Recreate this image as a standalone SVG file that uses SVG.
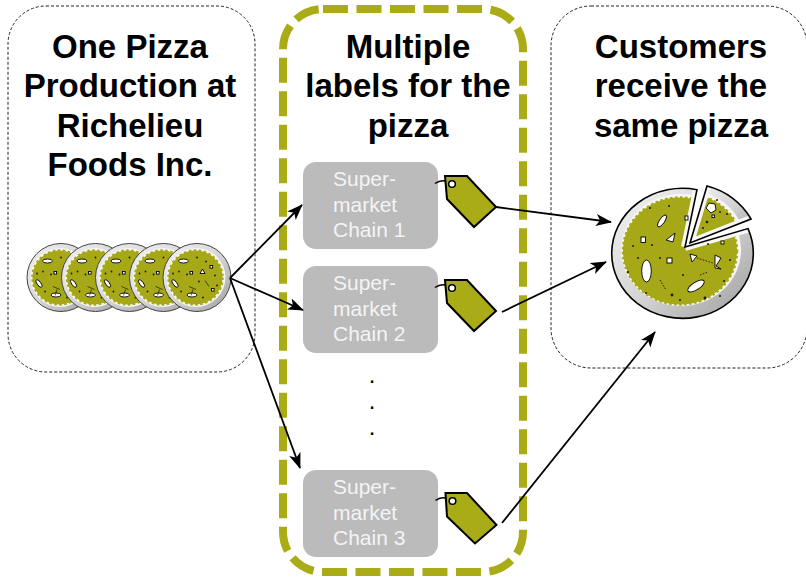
<svg xmlns="http://www.w3.org/2000/svg" xmlns:xlink="http://www.w3.org/1999/xlink" width="806" height="580" viewBox="0 0 806 580">
  <style>
    .frame { fill: none; stroke: #222; stroke-width: 1; stroke-dasharray: 3 2; }
    .hub { fill: none; stroke: #a9ac16; stroke-width: 8; stroke-dasharray: 25 8.5; }
    .title { font-family: "Liberation Sans", Arial, Helvetica, sans-serif; font-weight: bold; font-size: 33px; fill: #000; text-anchor: middle; }
    .store { fill: #bbbbbb; }
    .storetxt { font-family: "Liberation Sans", Arial, Helvetica, sans-serif; font-size: 21px; fill: #f4f4f4; }
    .tag { fill: #a9ac16; stroke: #000; stroke-width: 2; stroke-linejoin: miter; }
    .hole { fill: #fff; stroke: #000; stroke-width: 1.5; }
    .string { fill: none; stroke: #000; stroke-width: 1.5; }
    .conn { fill: none; stroke: #000; stroke-width: 1.8; marker-end: url(#ah); }
    .spot { fill: #fff; stroke: #000; stroke-width: 0.9; }
    .crumb { fill: #1a1a00; }
    .cheese { fill: #a6a817; stroke: #a6a817; stroke-width: 2.5; stroke-dasharray: 2.5 2.5; }
    .dots { font-family: "Liberation Sans", Arial, sans-serif; font-size: 24px; fill: #000; text-anchor: middle; }
  </style>
  <defs>
    <marker id="ah" markerUnits="userSpaceOnUse" markerWidth="16" markerHeight="12" viewBox="0 0 16 12" refX="15" refY="6" orient="auto">
      <path d="M0,0 L16,6 L0,12 L4,6 Z" fill="#000"/>
    </marker>
    <linearGradient id="plateG" x1="0" y1="0" x2="1" y2="1">
      <stop offset="0" stop-color="#f4f4f4"/>
      <stop offset="0.55" stop-color="#d2d2d2"/>
      <stop offset="1" stop-color="#9c9c9c"/>
    </linearGradient>
    <!-- small whole pizza, centred on 0,0 -->
    <g id="mini">
      <circle r="34" fill="url(#plateG)" stroke="#444" stroke-width="1"/>
      <circle cx="-1" cy="0" r="29.5" fill="#f6f6f6"/>
      <circle class="cheese" cx="-1.5" cy="0" r="27"/>
      <ellipse class="spot" cx="-13.5" cy="-16.5" rx="5" ry="2"/>
      <ellipse class="spot" cx="-22" cy="6" rx="1.8" ry="4.5" transform="rotate(-35 -22 6)"/>
      <ellipse class="spot" cx="-5" cy="17.5" rx="5" ry="2"/>
      <path class="spot" d="M3,-4 L8,-4 L5.5,-8.5 Z"/>
      <rect class="spot" x="-7" y="-6" width="2.6" height="2.6"/>
      <rect class="spot" x="14.5" y="11" width="2.6" height="2.6"/>
      <rect class="spot" x="13" y="-12" width="2.6" height="2.6"/>
      <path d="M-8,9 L-1,12 M-4,12 L-6,18 M8,3 L12,9" stroke="#000" stroke-width="0.6" fill="none"/>
      <circle class="crumb" cx="-18" cy="-6" r="0.9"/>
      <circle class="crumb" cx="-10" cy="-3" r="0.9"/>
      <circle class="crumb" cx="2" cy="4" r="0.9"/>
      <circle class="crumb" cx="9" cy="-16" r="0.9"/>
      <circle class="crumb" cx="18" cy="-2" r="0.9"/>
      <circle class="crumb" cx="20" cy="8" r="0.9"/>
      <circle class="crumb" cx="-16" cy="14" r="0.9"/>
      <circle class="crumb" cx="6" cy="20" r="0.9"/>
      <circle class="crumb" cx="-24" cy="-4" r="0.9"/>
      <circle class="crumb" cx="0" cy="-20" r="0.9"/>
    </g>
    <!-- outline of the cut pizza and its lifted slice -->
    <path id="mainPie" d="M685 247 L748 228.6 A70.8 65 0 1 1 697 189.7 Z"/>
    <path id="slicePie" d="M690 243 L707 186 A70.8 65 0 0 1 751 219 Z"/>
    <clipPath id="mainClip"><use xlink:href="#mainPie"/></clipPath>
    <clipPath id="sliceClip"><use xlink:href="#slicePie"/></clipPath>
  </defs>

  <!-- production -->
  <g id="factory">
    <rect class="frame" x="8" y="6" width="247" height="366" rx="38" ry="38"/>
    <text class="title"><tspan x="130" y="57.5">One Pizza</tspan><tspan x="130" y="97">Production at</tspan><tspan x="130" y="136.5">Richelieu</tspan><tspan x="130" y="176">Foods Inc.</tspan></text>
    <use xlink:href="#mini" x="61" y="277.5"/>
    <use xlink:href="#mini" x="95.5" y="277.5"/>
    <use xlink:href="#mini" x="129.5" y="277.5"/>
    <use xlink:href="#mini" x="163.5" y="277.5"/>
    <use xlink:href="#mini" x="197" y="277.5"/>
  </g>

  <!-- labelling -->
  <g id="labels">
    <rect class="hub" x="283" y="9" width="240" height="563" rx="40" ry="40"/>
    <text class="title"><tspan x="408" y="57.5">Multiple</tspan><tspan x="408" y="97">labels for the</tspan><tspan x="408" y="136.5">pizza</tspan></text>
    <text class="dots"><tspan x="372" y="383">.</tspan><tspan x="372" y="409">.</tspan><tspan x="372" y="435">.</tspan></text>
  </g>

  <g id="chain1">
    <rect class="store" x="303" y="162" width="135" height="87" rx="13"/>
    <text class="storetxt"><tspan x="333" y="186">Super-</tspan><tspan x="333" y="211.5">market</tspan><tspan x="333" y="237">Chain 1</tspan></text>
    <path class="string" d="M435 183.5 C440 180 445 180 450 183"/>
    <polygon class="tag" points="445,176 467,176 496,207 474,227 447,199"/>
    <circle class="hole" cx="452" cy="184" r="3.3"/>
  </g>

  <g id="chain2">
    <rect class="store" x="303" y="266" width="135" height="87" rx="13"/>
    <text class="storetxt"><tspan x="333" y="290">Super-</tspan><tspan x="333" y="315.5">market</tspan><tspan x="333" y="341">Chain 2</tspan></text>
    <path class="string" d="M435 287.5 C440 284 445 284 450 287"/>
    <polygon class="tag" points="445,280 467,280 496,311 474,331 447,303"/>
    <circle class="hole" cx="452" cy="288" r="3.3"/>
  </g>

  <g id="chain3">
    <rect class="store" x="303" y="470" width="135" height="87" rx="13"/>
    <text class="storetxt"><tspan x="333" y="494">Super-</tspan><tspan x="333" y="519.5">market</tspan><tspan x="333" y="545">Chain 3</tspan></text>
    <path class="string" d="M435.5 500.5 C440 497 446 497 450 500"/>
    <polygon class="tag" points="445.5,493 467,493 496.5,525 475,543.5 447,516.5"/>
    <circle class="hole" cx="452.5" cy="501" r="3.3"/>
  </g>

  <!-- customers -->
  <g id="customers">
    <rect class="frame" x="551" y="6" width="256" height="362" rx="40" ry="40"/>
    <text class="title"><tspan x="681" y="57.5">Customers</tspan><tspan x="681" y="97">receive the</tspan><tspan x="681" y="136.5">same pizza</tspan></text>

    <!-- cut pizza -->
    <use xlink:href="#mainPie" fill="url(#plateG)"/>
    <g clip-path="url(#mainClip)">
      <ellipse cx="681" cy="250" rx="60" ry="56" fill="#f7f7f7"/>
      <ellipse class="cheese" cx="680" cy="251" rx="57" ry="53.5"/>
      <path d="M685 247 L748 228.6 M685 247 L697 189.7" stroke="#f7f7f7" stroke-width="8" fill="none"/>
      <ellipse class="spot" cx="646.5" cy="271" rx="4.8" ry="11"/>
      <ellipse class="spot" cx="696" cy="286" rx="9.5" ry="3.8" transform="rotate(-32 696 286)"/>
      <ellipse class="spot" cx="662" cy="221" rx="2.6" ry="7" transform="rotate(35 662 221)"/>
      <path class="spot" d="M666 240 L675 233 L673 242 Z"/>
      <path class="spot" d="M690 254 L697 256 L692 262 Z"/>
      <path class="spot" d="M715 255 L721 258 L716 266 L721 269 L715 268 Z"/>
      <rect class="spot" x="641" y="237" width="4.5" height="5.5"/>
      <rect class="spot" x="667" y="258" width="5" height="5"/>
      <rect class="spot" x="685" y="216" width="3" height="4"/>
      <rect class="spot" x="721" y="241" width="3" height="3"/>
      <path d="M697 258 L713 263 M660 280 L666 290 M700 275 L708 272" stroke="#000" stroke-width="0.8" stroke-dasharray="1.5 1.5" fill="none"/>
      <circle class="crumb" cx="633" cy="246" r="1"/>
      <circle class="crumb" cx="650" cy="208" r="1.1"/>
      <circle class="crumb" cx="638" cy="258" r="1"/>
      <circle class="crumb" cx="652" cy="245" r="1"/>
      <circle class="crumb" cx="672" cy="295" r="1.4"/>
      <circle class="crumb" cx="680" cy="300" r="1"/>
      <circle class="crumb" cx="705" cy="298" r="1.4"/>
      <circle class="crumb" cx="724" cy="281" r="1"/>
      <circle class="crumb" cx="730" cy="260" r="1"/>
      <circle class="crumb" cx="708" cy="244" r="1"/>
      <circle class="crumb" cx="628" cy="272" r="1"/>
      <circle class="crumb" cx="646" cy="293" r="1"/>
      <circle class="crumb" cx="669" cy="206" r="1"/>
      <circle class="crumb" cx="660" cy="258" r="1"/>
      <circle class="crumb" cx="683" cy="275" r="1"/>
      <circle class="crumb" cx="720" cy="296" r="1"/>
    </g>
    <use xlink:href="#mainPie" fill="none" stroke="#000" stroke-width="1.6" stroke-linejoin="miter"/>

    <!-- lifted slice -->
    <use xlink:href="#slicePie" fill="url(#plateG)"/>
    <g clip-path="url(#sliceClip)">
      <ellipse cx="686" cy="246" rx="60" ry="56" fill="#f7f7f7"/>
      <ellipse class="cheese" cx="685" cy="247" rx="57" ry="53.5"/>
      <path d="M690 243 L707 186 M690 243 L751 219" stroke="#f7f7f7" stroke-width="8" fill="none"/>
      <path class="spot" d="M709 203 L715 204 L716 210 L711 213 L706 208 Z"/>
      <rect class="spot" x="712" y="215" width="2.5" height="2.5"/>
      <circle class="crumb" cx="707" cy="222" r="1.3"/>
      <circle class="crumb" cx="720" cy="212" r="1"/>
      <circle class="crumb" cx="727" cy="214" r="1"/>
      <circle class="crumb" cx="717" cy="200" r="1"/>
      <circle class="crumb" cx="703" cy="228" r="1"/>
    </g>
    <use xlink:href="#slicePie" fill="none" stroke="#000" stroke-width="1.6" stroke-linejoin="miter"/>
  </g>

  <!-- connectors -->
  <g id="connectors">
    <path class="conn" d="M230 278 L302 205"/>
    <path class="conn" d="M230 278 L303 310"/>
    <path class="conn" d="M230 278 L300 468"/>
    <path class="conn" d="M496 207 L611 222"/>
    <path class="conn" d="M502 312 L606 262"/>
    <path class="conn" d="M502 523 L655 332"/>
  </g>
</svg>
